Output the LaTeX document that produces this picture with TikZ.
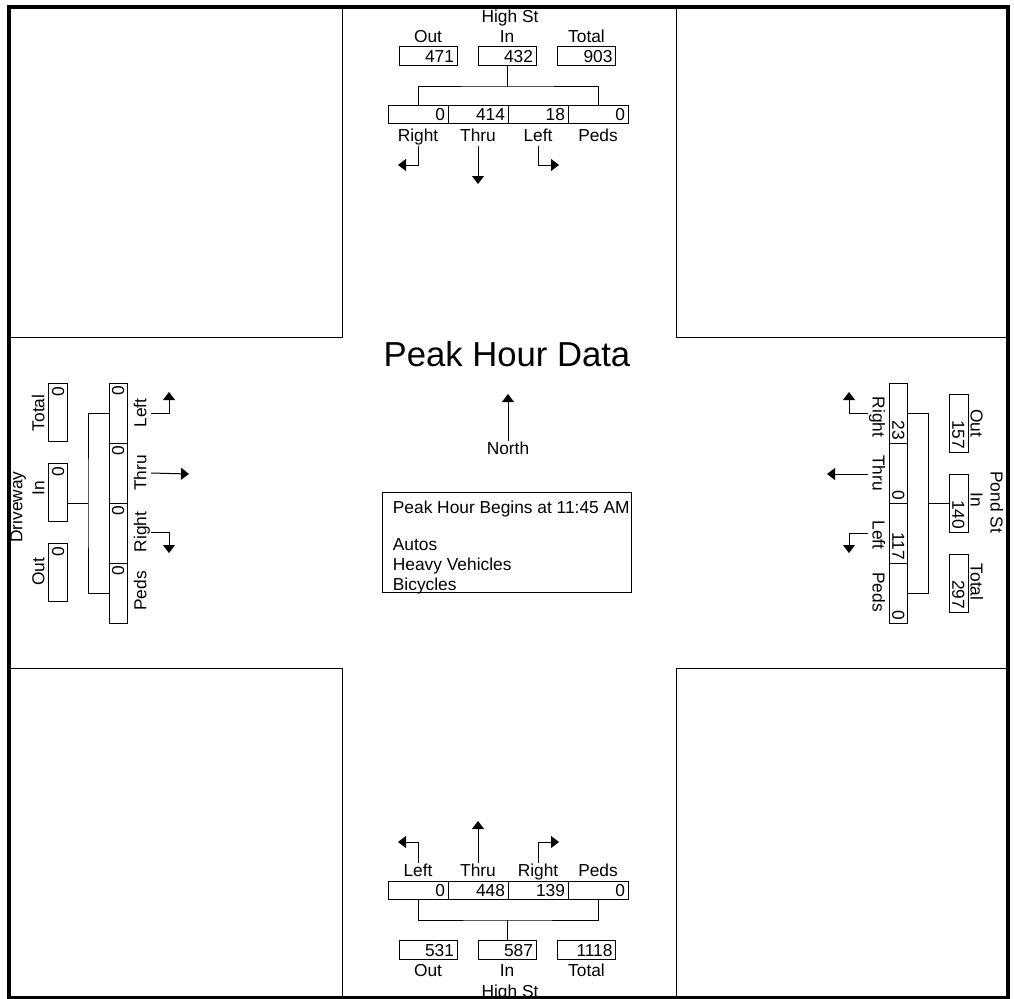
\documentclass[tikz,border=0pt]{standalone}
\usepackage{fontspec}
\setmainfont{Liberation Sans}
\usetikzlibrary{arrows.meta,positioning}

\begin{document}
\begin{tikzpicture}[%
    x=0.75pt, y=-0.75pt,
    >={Triangle[width=9pt,length=6pt]},
    node distance=45pt,
    on grid,
    txt/.style={font=\fontsize{13pt}{15pt}\selectfont, inner sep=0.5pt, text height=9.3pt, text depth=2.7pt},
    mov/.style={txt, draw, line width=0.75pt, minimum height=13.5pt, text width=40.5pt, align=right, inner xsep=2.25pt, inner ysep=0pt, text depth=0pt},
    tot/.style={mov, minimum height=14.25pt, text width=39pt},
    arr/.style={->, line width=0.75pt},
    road/.style={line width=0.75pt}
    ]

    \useasboundingbox (0,0) rectangle (1014,999);

    % road edges
    \draw[road] (9,337) -| (342,7);
    \draw[road] (1008,337) -| (676,7);
    \draw[road] (9,668) -| (342,997);
    \draw[road] (1008,668) -| (676,997);

    % High St (north)
    \node[txt] (tName) at (510,18) {High St};
    \node[tot] (tOut) at (428,56.5) {471};
    \node[tot] (tIn) at (507,56.5) {432};
    \node[tot] (tTot) at (586.5,56.5) {903};
    \node[txt, above=13.9pt of tOut] (tOutL) {Out};
    \node[txt, above=13.9pt of tIn] (tInL) {In};
    \node[txt, above=13.9pt of tTot] (tTotL) {Total};
    \node[mov] (tR) at (418,114.5) {0};
    \node[mov, right=of tR] (tT) {414};
    \node[mov, right=of tT] (tL) {18};
    \node[mov, right=of tL] (tP) {0};
    \node[txt] (tRl) at (418,137) {Right};
    \node[txt] (tTl) at (478,137) {Thru};
    \node[txt] (tLl) at (538,137) {Left};
    \node[txt] (tPl) at (598,137) {Peds};
    \coordinate (tBar) at (507,87);
    \coordinate (tRe) at (398,165);
    \coordinate (tTe) at (478,184);
    \coordinate (tLe) at (559,165);
    \draw[road] (tIn) -- (tBar);
    \draw[road] (tR) |- (tBar) -| (tP);
    \draw[arr] (tRl.south) |- (tRe);
    \draw[arr] (tTl.south) -- (tTe);
    \draw[arr] (tLl.south) |- (tLe);

    % High St (south)
    \node[txt] (bLl) at (418,872) {Left};
    \node[txt] (bTl) at (478,872) {Thru};
    \node[txt] (bRl) at (538,872) {Right};
    \node[txt] (bPl) at (598,872) {Peds};
    \node[mov] (bL) at (418,890) {0};
    \node[mov, right=of bL] (bT) {448};
    \node[mov, right=of bT] (bR) {139};
    \node[mov, right=of bR] (bP) {0};
    \node[tot] (bOut) at (428,950) {531};
    \node[tot] (bIn) at (507,950) {587};
    \node[tot] (bTot) at (586.5,950) {1118};
    \node[txt, below=16.5pt of bOut] (bOutL) {Out};
    \node[txt, below=16.5pt of bIn] (bInL) {In};
    \node[txt, below=16.5pt of bTot] (bTotL) {Total};
    \node[txt] (bName) at (510,993) {High St};
    \coordinate (bBar) at (507,920);
    \coordinate (bLe) at (398,842);
    \coordinate (bTe) at (478,821);
    \coordinate (bRe) at (559,842);
    \draw[road] (bIn) -- (bBar);
    \draw[road] (bL) |- (bBar) -| (bP);
    \draw[arr] (bLl.north) |- (bLe);
    \draw[arr] (bTl.north) -- (bTe);
    \draw[arr] (bRl.north) |- (bRe);

    % Driveway (west)
    \node[txt, rotate=90] (lName) at (18,507) {Driveway};
    \node[tot, rotate=90] (lTot) at (58,412.5) {0};
    \node[tot, rotate=90] (lIn) at (58,492.5) {0};
    \node[tot, rotate=90] (lOut) at (58,572.5) {0};
    \node[txt, rotate=90] (lTotL) at (40,413) {Total};
    \node[txt, rotate=90] (lInL) at (40,488) {In};
    \node[txt, rotate=90] (lOutL) at (40,572) {Out};
    \node[mov, rotate=90] (lL) at (118,413) {0};
    \node[mov, rotate=90, below=of lL] (lT) {0};
    \node[mov, rotate=90, below=of lT] (lR) {0};
    \node[mov, rotate=90, below=of lR] (lP) {0};
    \node[txt, rotate=90] (lLl) at (142,413) {Left};
    \node[txt, rotate=90] (lTl) at (142,473) {Thru};
    \node[txt, rotate=90] (lRl) at (142,532) {Right};
    \node[txt, rotate=90] (lPl) at (142,591) {Peds};
    \coordinate (lBar) at (88,503);
    \coordinate (lLe) at (169,392);
    \coordinate (lTe) at (189,474);
    \coordinate (lRe) at (169,553);
    \draw[road] (lIn.south |- lBar) -- (lBar);
    \draw[road] (lL.north) -| (lBar) |- (lP.north);
    \draw[arr] (lLl.south) -| (lLe);
    \draw[arr] (lTl.south) -- (lTe);
    \draw[arr] (lRl.south) -| (lRe);

    % Pond St (east)
    \node[txt, rotate=-90] (rName) at (995,502) {Pond St};
    \node[tot, rotate=-90] (rOut) at (958.5,423) {157};
    \node[tot, rotate=-90] (rIn) at (958.5,503) {140};
    \node[tot, rotate=-90] (rTot) at (958.5,583) {297};
    \node[txt, rotate=-90] (rOutL) at (975,423) {Out};
    \node[txt, rotate=-90] (rInL) at (975,500) {In};
    \node[txt, rotate=-90] (rTotL) at (975,582) {Total};
    \node[mov, rotate=-90] (rR) at (898.5,413) {23};
    \node[mov, rotate=-90, below=of rR] (rT) {0};
    \node[mov, rotate=-90, below=of rT] (rL) {117};
    \node[mov, rotate=-90, below=of rL] (rP) {0};
    \node[txt, rotate=-90] (rRl) at (877,417) {Right};
    \node[txt, rotate=-90] (rTl) at (877,473) {Thru};
    \node[txt, rotate=-90] (rLl) at (877,535) {Left};
    \node[txt, rotate=-90] (rPl) at (877,592) {Peds};
    \coordinate (rBar) at (928,503);
    \coordinate (rRe) at (849,392);
    \coordinate (rTe) at (827,474);
    \coordinate (rLe) at (849,553);
    \draw[road] (rIn.south) -- (rBar);
    \draw[road] (rR.north) -| (rBar) |- (rP.north);
    \draw[arr] (rRl.south |- 0,413) -| (rRe);
    \draw[arr] (rTl.south |- 0,474) -- (rTe);
    \draw[arr] (rLl.south |- 0,533) -| (rLe);

    % middle
    \node[txt, font=\fontsize{26pt}{30pt}\selectfont] (title) at (507,362) {Peak Hour Data};
    \node[txt] (north) at (508,450) {North};
    \coordinate (northE) at (508,394);
    \draw[arr] (north.north) -- (northE);
    \node[draw, road, anchor=north west, minimum width=186.75pt, minimum height=75pt, inner sep=0pt] (info) at (382,492) {};
    \node[txt, anchor=north west, align=left, text height=, text depth=] (infoText) at (392,500.5)
        {Peak Hour Begins at 11:45 AM\\[12.75pt]Autos\\Heavy Vehicles\\Bicycles};

    % frame
    \draw[line width=3pt] (9,7) rectangle (1008,997.5);

    \end{tikzpicture}
\end{document}
